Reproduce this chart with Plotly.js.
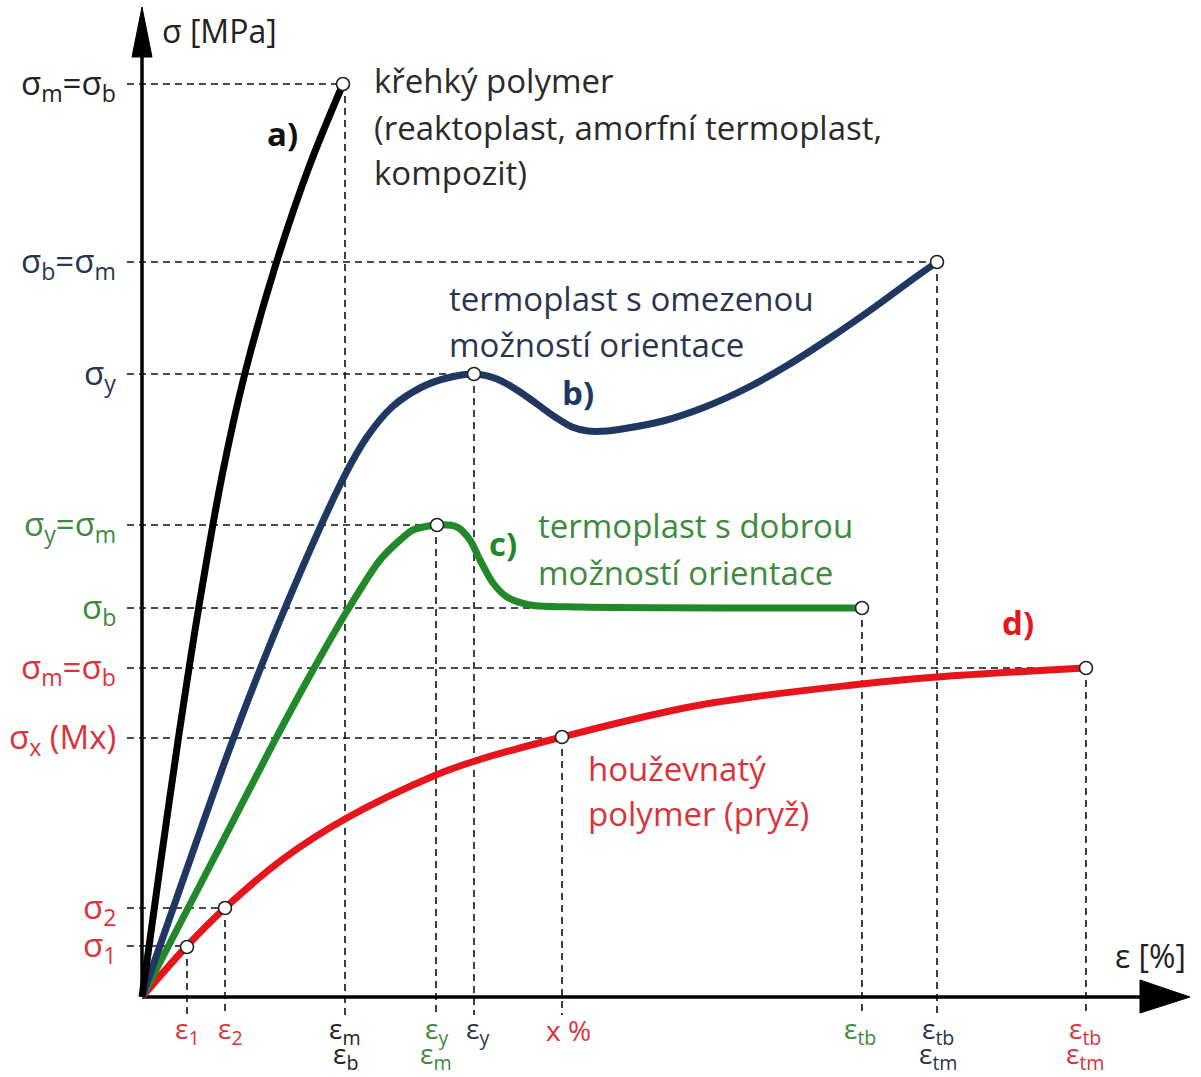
<!DOCTYPE html>
<html>
<head>
<meta charset="utf-8">
<script src="https://cdn.plot.ly/plotly-3.0.1.min.js"></script>
<style>html,body{margin:0;padding:0;background:#fff;}#chart{width:1201px;height:1077px;}</style>
</head>
<body>
<div id="chart"></div>
<script>
// ---- curve data (strain units, stress units) ----
const aX = [0, 18, 36, 56, 80, 103, 133, 167, 201];
const aY = [0, 130, 256, 385, 521, 624, 730, 830, 913];

const bX = [0, 48, 89, 141, 203, 225, 250, 280, 305, 332, 355, 375, 395, 413, 430, 446, 465, 480, 521, 563, 605, 646, 688, 730, 771, 795];
const bY = [0, 137, 252, 384, 522, 560, 590, 610, 619, 623, 618, 607, 593, 580, 570, 566, 566, 568, 576, 590, 609, 632, 659, 688, 718, 735];

const cX = [0, 71, 132, 166, 205, 238, 258, 271, 295, 315, 328, 338, 351, 365, 388, 438, 720];
const cY = [0, 137, 255, 318, 386, 437, 457, 467, 472, 470, 457, 437, 414, 400, 392, 390, 389];

const dX = [0, 44, 83, 141, 203, 294, 333, 420, 558, 720, 795, 944];
const dY = [0, 50, 89, 138, 178, 222, 236, 260, 292, 313, 320, 329];

// ---- characteristic points (open circles) ----
const ptX = [201, 332, 795, 295, 720, 45, 83, 420, 944];
const ptY = [913, 623, 735, 472, 389, 50, 89, 260, 329];

// ---- stress levels (y tick labels) ----
const yTickVals = [913, 735, 623, 472, 389, 329, 259, 89, 51];
const yTickText = ["σ<sub>m</sub>=σ<sub>b</sub>", "σ<sub>b</sub>=σ<sub>m</sub>", "σ<sub>y</sub>", "σ<sub>y</sub>=σ<sub>m</sub>", "σ<sub>b</sub>", "σ<sub>m</sub>=σ<sub>b</sub>", "σ<sub>x</sub> (Mx)", "σ<sub>2</sub>", "σ<sub>1</sub>"];
const yTickColor = ["#222222", "#2a3650", "#2a3650", "#3d8a3d", "#3d8a3d", "#d9343a", "#d9343a", "#d9343a", "#d9343a"];
const hLineEndX = [201, 795, 332, 295, 720, 944, 420, 83, 45];

// ---- strain levels (x tick labels) ----
const xTickVals = [45, 88, 203, 294, 335, 426, 718, 796, 943];
const xLineX = [45, 83, 203, 294, 332, 420, 720, 795, 944];
const xLineTopY = [50, 89, 913, 472, 623, 260, 389, 735, 329];
const xTickText = ["ε<sub>1</sub>", "ε<sub>2</sub>", "ε<sub>m</sub>", "ε<sub>y</sub>", "ε<sub>y</sub>", "x %", "ε<sub>tb</sub>", "ε<sub>tb</sub>", "ε<sub>tb</sub>"];
const xTickText2 = ["", "", "ε<sub>b</sub>", "ε<sub>m</sub>", "", "", "", "ε<sub>tm</sub>", "ε<sub>tm</sub>"];
const xTickColor = ["#d9343a", "#d9343a", "#222222", "#3d8a3d", "#2a3650", "#d9343a", "#3d8a3d", "#2a3650", "#d9343a"];

const FONT = "Open Sans, Lato, sans-serif";
const BLACK = "#000000", NAVY = "#1f3761", GREEN = "#22892a", RED = "#e8141c";

// dashed guide lines built from the levels
const gx = [], gy = [];
for (let i = 0; i < yTickVals.length; i++) { gx.push(-15, hLineEndX[i], null); gy.push(yTickVals[i], yTickVals[i], null); }
for (let i = 0; i < xLineX.length; i++) { gx.push(xLineX[i], xLineX[i], null); gy.push(xLineTopY[i], -18, null); }

const traces = [
  {x: gx, y: gy, mode: "lines", line: {color: "#111", width: 1.6, dash: "7px,5px"}, hoverinfo: "skip"},
  // axes
  {x: [0, 0, null, 0, 1000], y: [945, 0, null, 0, 0], mode: "lines", line: {color: "#000", width: 3.5}, hoverinfo: "skip"},
  {x: [-10, 0, 10, -10], y: [940, 990, 940, 940], mode: "lines", fill: "toself", fillcolor: "#000", line: {color: "#000", width: 1}, hoverinfo: "skip"},
  {x: [998, 1048, 998, 998], y: [17, 0, -16, 17], mode: "lines", fill: "toself", fillcolor: "#000", line: {color: "#000", width: 1}, hoverinfo: "skip"},
  // curves
  {x: dX, y: dY, mode: "lines", line: {color: RED, width: 7, shape: "spline", smoothing: 1}},
  {x: cX, y: cY, mode: "lines", line: {color: GREEN, width: 7, shape: "spline", smoothing: 0.8}},
  {x: bX, y: bY, mode: "lines", line: {color: NAVY, width: 7, shape: "spline", smoothing: 0.9}},
  {x: aX, y: aY, mode: "lines", line: {color: BLACK, width: 7, shape: "spline", smoothing: 1}},
  {x: ptX, y: ptY, mode: "markers", marker: {size: 13, color: "#fff", line: {color: "#222", width: 1.6}}}
];

const ann = [];
function t(x, y, text, color, size, xa, opts) {
  ann.push(Object.assign({x: x, y: y, xref: "x", yref: "y", text: text, showarrow: false,
    font: {family: FONT, size: size, color: color}, xanchor: xa || "left", yanchor: "middle"}, opts || {}));
}
for (let i = 0; i < yTickVals.length; i++) t(-24, yTickVals[i], yTickText[i], yTickColor[i], 33, "right");
for (let i = 0; i < xTickVals.length; i++) {
  t(xTickVals[i], -33, xTickText[i], xTickColor[i], 28, "center");
  if (xTickText2[i]) t(xTickVals[i], -58, xTickText2[i], xTickColor[i], 28, "center");
}
// axis titles
t(18, 967, "σ [MPa]", "#222", 32, "left");
t(1008, 42, "ε [%]", "#222", 32, "center");
// curve labels
t(140, 864, "<b>a)</b>", "#111", 33, "center");
t(436, 605, "<b>b)</b>", NAVY, 33, "center");
t(361, 454, "<b>c)</b>", GREEN, 33, "center");
t(876, 375, "<b>d)</b>", RED, 33, "center");
// descriptions
t(230, 917, "křehký polymer", "#2b2b2b", 33);
t(230, 870, "(reaktoplast, amorfní termoplast,", "#2b2b2b", 33);
t(230, 825, "kompozit)", "#2b2b2b", 33);
t(305, 699, "termoplast s omezenou", "#2a3650", 33);
t(305, 653, "možností orientace", "#2a3650", 33);
t(394, 472, "termoplast s dobrou", "#3d8a3d", 33);
t(394, 425, "možností orientace", "#3d8a3d", 33);
t(444, 229, "houževnatý", "#d9343a", 33);
t(444, 184, "polymer (pryž)", "#d9343a", 33);

const layout = {
  width: 1201, height: 1077,
  margin: {l: 0, r: 0, t: 0, b: 0},
  paper_bgcolor: "#fff", plot_bgcolor: "#fff",
  showlegend: false,
  xaxis: {range: [-142, 1059], visible: false, fixedrange: true},
  yaxis: {range: [-80, 997], visible: false, fixedrange: true},
  annotations: ann
};
Plotly.newPlot("chart", traces, layout, {staticPlot: true});
</script>
</body>
</html>
